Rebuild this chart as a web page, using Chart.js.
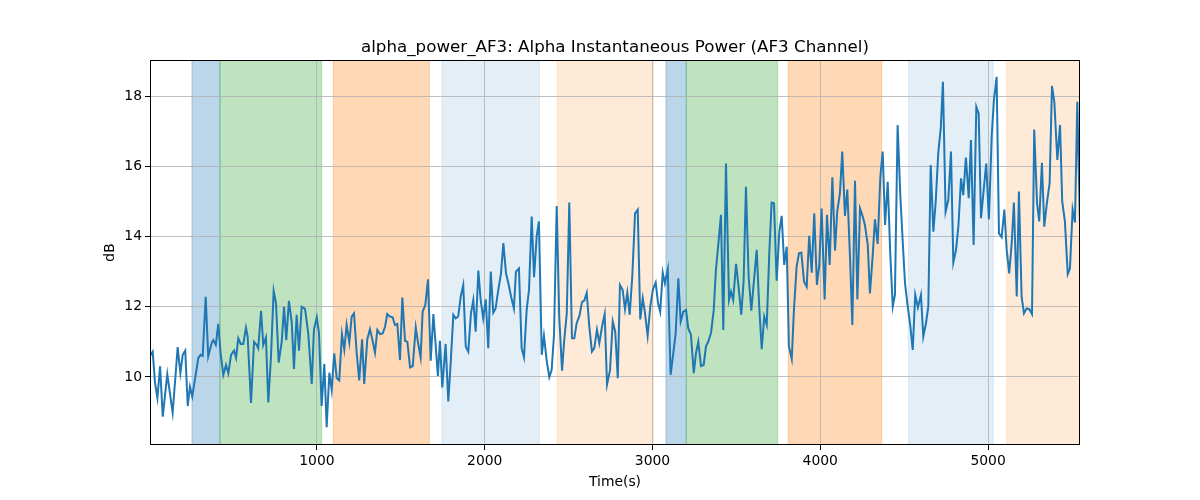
<!DOCTYPE html>
<html>
<head>
<meta charset="utf-8">
<script src="https://cdn.jsdelivr.net/npm/chart.js@4.4.0/dist/chart.umd.min.js"></script>
<style>
  html, body { margin: 0; padding: 0; background: #fff; }
  #wrap { width: 1200px; height: 500px; }
</style>
</head>
<body>
<div id="wrap"><canvas id="chart" width="1200" height="500"></canvas></div>
<script>
// time (s) of each sample
const times = [
  5, 21, 35, 49, 65, 81, 108, 140, 170, 186, 200, 215, 230, 243, 257, 293, 307, 319, 337, 352,
  373, 382, 397, 412, 426, 442, 458, 472, 488, 506, 518, 531, 546, 561, 577,
  587, 607, 625, 641, 650, 667, 680, 696, 710, 726, 742, 756, 772, 790, 804, 817, 833, 850, 863, 879,
  893, 909, 929, 948, 969, 982, 999, 1012, 1028, 1044, 1058, 1074, 1088, 1103, 1118, 1133, 1149, 1163,
  1177, 1193, 1207, 1221, 1237, 1252, 1269, 1282, 1300, 1316, 1330, 1346, 1360, 1376, 1392, 1406, 1419, 1435, 1451, 1465,
  1479, 1495, 1509, 1525, 1539, 1555, 1571, 1589, 1600, 1618, 1630, 1646, 1662, 1678, 1694, 1710, 1721,
  1733, 1747, 1767, 1783, 1797, 1813, 1827, 1842, 1857, 1872, 1887, 1902, 1918, 1932, 1946, 1962, 1976, 1991, 2006, 2021,
  2036, 2051, 2065, 2081, 2097, 2111, 2127, 2141, 2157, 2174, 2186, 2204, 2220, 2234, 2250, 2264, 2280, 2294,
  2310, 2323, 2340, 2353, 2369, 2385, 2399, 2413, 2429, 2444, 2461, 2474, 2489, 2504, 2520, 2534, 2548, 2564, 2580, 2593,
  2608, 2623, 2639, 2653, 2669, 2683, 2699, 2715, 2729, 2747, 2763, 2778, 2793, 2806, 2822, 2836, 2850, 2864,
  2880, 2896, 2912, 2927, 2942, 2955, 2971, 2987, 3003, 3019, 3033, 3046, 3061, 3074, 3091, 3108, 3124, 3138, 3154, 3168,
  3184, 3200, 3213, 3229, 3246, 3259, 3273, 3289, 3305, 3319, 3332, 3349, 3365, 3378, 3392, 3408, 3422, 3438,
  3456, 3468, 3481, 3498, 3515, 3529, 3543, 3557, 3573, 3589, 3605, 3621, 3636, 3651, 3666, 3681, 3696, 3710, 3724, 3740,
  3756, 3770, 3785, 3800, 3813, 3830, 3843, 3859, 3873, 3887, 3903, 3919, 3934, 3949, 3964, 3980,
  3994, 4008, 4026, 4040, 4056, 4072, 4088, 4101, 4117, 4131, 4147, 4161, 4177, 4191, 4207, 4221, 4237, 4253, 4266, 4283,
  4296, 4312, 4326, 4342, 4358, 4372, 4386, 4402, 4417, 4432, 4445, 4461, 4477, 4493, 4505, 4521, 4536, 4551, 4566,
  4582, 4600, 4614, 4630, 4644, 4658, 4674, 4688, 4703, 4718, 4731, 4747, 4763, 4779, 4793, 4809, 4823, 4839, 4852, 4868,
  4885, 4898, 4914, 4930, 4944, 4958, 4974, 4989, 5005, 5022, 5035, 5051, 5065, 5081, 5097, 5111, 5126,
  5141, 5154, 5171, 5184, 5200, 5214, 5230, 5246, 5262, 5275, 5292, 5305, 5321, 5335, 5351, 5367, 5381, 5395, 5413, 5429,
  5442, 5458, 5475, 5488, 5504, 5518, 5532, 5548
]

// alpha power (dB)
const alphaPower = [
  10.6, 10.72, 9.83, 9.4, 10.3, 8.87, 10.08, 8.98, 10.85, 10.11, 10.63, 10.75, 9.17, 9.72, 9.44, 10.54, 10.63, 10.6, 12.28, 10.58,
  10.97, 11.05, 10.91, 11.51, 10.66, 10.06, 10.34, 10.1, 10.63, 10.75, 10.54, 11.1, 10.94, 10.94, 11.4,
  11.15, 9.26, 11.0, 10.91, 10.82, 11.88, 10.91, 11.13, 9.27, 10.58, 12.45, 12.1, 10.41, 11.0, 12.0, 11.05, 12.17, 11.54, 10.23, 11.77,
  10.75, 12.0, 11.94, 11.25, 9.8, 11.34, 11.7, 11.25, 9.17, 10.37, 8.57, 10.12, 9.63, 10.67, 9.96, 9.9, 11.22, 10.78,
  11.48, 10.98, 11.72, 11.81, 10.67, 9.9, 11.07, 9.8, 11.07, 11.36, 11.07, 10.69, 11.34, 11.22, 11.24, 11.43, 11.79, 11.72, 11.7, 11.48,
  11.51, 10.48, 12.26, 11.03, 11.0, 10.27, 10.31, 11.41, 11.05, 10.56, 11.86, 12.05, 12.78, 10.46, 11.79, 10.75, 10.03,
  11.03, 9.7, 10.94, 9.3, 10.39, 11.77, 11.67, 11.72, 12.29, 12.62, 10.87, 10.72, 11.81, 12.19, 11.29, 13.03, 12.19, 11.67, 12.21, 10.82,
  13.0, 11.83, 11.95, 12.48, 12.95, 13.81, 12.95, 12.67, 12.29, 11.95, 13.0, 13.09, 10.82, 10.56, 11.91, 12.48, 14.57, 12.84,
  14.02, 14.43, 10.63, 11.17, 10.48, 9.99, 10.2, 11.2, 14.87, 11.72, 10.18, 11.05, 11.81, 14.97, 11.1, 11.1, 11.53, 11.73, 12.14, 12.17,
  12.4, 11.45, 10.72, 10.82, 11.34, 10.96, 11.43, 11.79, 9.78, 10.2, 11.58, 11.29, 9.96, 12.62, 12.48, 11.93, 12.4, 11.77,
  12.91, 14.66, 14.77, 11.64, 12.24, 11.83, 11.17, 12.01, 12.5, 12.69, 12.1, 11.86, 12.97, 12.67, 13.07, 10.06, 10.67, 11.24, 12.81, 11.58,
  11.86, 11.91, 11.39, 11.2, 10.11, 10.67, 11.0, 10.31, 10.34, 10.88, 11.0, 11.26, 11.91, 13.05, 13.76, 14.62, 11.34, 16.08,
  12.19, 12.43, 12.19, 13.22, 12.48, 11.77, 12.72, 15.42, 12.86, 11.89, 12.76, 13.62, 12.01, 10.79, 11.72, 11.48, 13.52, 14.97, 14.95, 12.74,
  14.14, 14.59, 13.19, 13.71, 10.87, 10.51, 11.91, 13.14, 13.52, 13.54, 12.72, 12.57, 14.02, 12.97, 14.66, 12.62,
  13.2, 14.8, 12.21, 14.62, 13.19, 15.69, 13.6, 14.71, 15.23, 16.42, 14.59, 15.34, 13.43, 11.48, 15.59, 12.21, 14.8, 14.57, 14.33, 13.76,
  12.38, 13.43, 14.49, 13.79, 15.7, 16.42, 14.33, 15.56, 13.52, 12.01, 12.34, 17.18, 15.18, 13.71, 12.67, 12.01, 11.48, 10.77, 12.34,
  11.98, 12.34, 11.15, 11.53, 12.01, 16.04, 14.14, 15.0, 16.37, 17.08, 18.41, 14.71, 15.04, 16.42, 13.26, 13.62, 14.28, 15.66, 15.18, 16.25,
  15.09, 16.75, 13.76, 17.7, 17.51, 14.52, 15.33, 16.08, 14.49, 16.89, 17.89, 18.55, 14.09, 13.98, 14.77, 13.62, 12.95,
  13.81, 14.97, 12.29, 15.28, 12.29, 11.81, 11.95, 11.93, 11.79, 17.05, 14.95, 14.43, 16.1, 14.28, 14.97, 15.52, 18.29, 17.84, 16.18, 17.18,
  15.0, 14.43, 12.93, 13.09, 14.77, 14.4, 17.84, 14.3
]

// shaded phases (start, end in seconds) and their kind
const spanStarts = [255, 422, 1097, 1745, 2432, 3080, 3201, 3809, 4525, 5111]
const spanEnds   = [422, 1028, 1670, 2326, 3005, 3201, 3746, 4366, 5031, 5548]
const spanKinds  = ['blue', 'green', 'orange', 'lightblue', 'lightorange', 'blue', 'green', 'orange', 'lightblue', 'lightorange']

const xTicks = [1000, 2000, 3000, 4000, 5000]
const yTicks = [10, 12, 14, 16, 18]

const chartTitle = 'alpha_power_AF3: Alpha Instantaneous Power (AF3 Channel)'

const spanColors = {
    blue: 'rgba(31, 119, 180, 0.3)',
    green: 'rgba(44, 160, 44, 0.3)',
    orange: 'rgba(255, 127, 14, 0.3)',
    lightblue: 'rgba(31, 119, 180, 0.12)',
    lightorange: 'rgba(255, 127, 14, 0.16)'
}

const data = times.map((t, i) => ({x: t, y: alphaPower[i]}))

// axvspan-like background bands, drawn under the grid
const spansPlugin = {
    id: 'spans',
    beforeDraw(chart) {
        const {ctx, chartArea, scales} = chart
        ctx.save()
        ctx.beginPath()
        ctx.rect(chartArea.left, chartArea.top, chartArea.width, chartArea.height)
        ctx.clip()
        spanStarts.forEach((s, i) => {
            const x0 = scales.x.getPixelForValue(s)
            const x1 = scales.x.getPixelForValue(spanEnds[i])
            ctx.fillStyle = spanColors[spanKinds[i]]
            ctx.fillRect(x0, chartArea.top, x1 - x0, chartArea.height)
            ctx.strokeStyle = spanColors[spanKinds[i]]
            ctx.lineWidth = 1
            ctx.strokeRect(x0, chartArea.top, x1 - x0, chartArea.height)
        })
        ctx.restore()
    }
}

// box around the plot + title centred over the axes (matplotlib style)
const framePlugin = {
    id: 'frame',
    afterDraw(chart) {
        const {ctx, chartArea} = chart
        ctx.save()
        ctx.strokeStyle = '#000'
        ctx.lineWidth = 1
        ctx.strokeRect(chartArea.left + 0.5, chartArea.top + 0.5, chartArea.width - 1, chartArea.height - 1)
        ctx.fillStyle = '#000'
        ctx.font = '16.7px "DejaVu Sans"'
        ctx.textAlign = 'center'
        ctx.textBaseline = 'middle'
        ctx.fillText(chartTitle, (chartArea.left + chartArea.right) / 2, chartArea.top - 12)
        ctx.restore()
    }
}

const font = {family: 'DejaVu Sans', size: 13.9}

new Chart(document.getElementById('chart'), {
    type: 'line',
    data: {
        datasets: [{
            label: 'alpha_power_AF3',
            data,
            borderColor: '#1f77b4',
            borderWidth: 2,
            pointRadius: 0,
            tension: 0,
            fill: false
        }]
    },
    options: {
        responsive: false,
        animation: false,
        layout: {padding: {left: 95, right: 120, top: 60, bottom: 0}},
        scales: {
            x: {
                type: 'linear',
                min: 5,
                max: 5548,
                afterBuildTicks: s => { s.ticks = xTicks.map(v => ({value: v})) },
                afterFit: s => { s.height = 55 },
                ticks: {color: '#000', font, padding: 3, maxRotation: 0, callback: v => String(v)},
                grid: {color: '#b0b0b0', lineWidth: 0.8, tickColor: '#000', tickLength: 5, tickWidth: 1},
                border: {display: false},
                title: {display: true, text: 'Time(s)', color: '#000', font, padding: {top: 0, bottom: 9}}
            },
            y: {
                min: 8.06,
                max: 19.03,
                afterBuildTicks: s => { s.ticks = yTicks.map(v => ({value: v})) },
                afterFit: s => { s.width = 55 },
                ticks: {color: '#000', font, padding: 3, callback: v => String(v)},
                grid: {color: '#b0b0b0', lineWidth: 0.8, tickColor: '#000', tickLength: 5, tickWidth: 1},
                border: {display: false},
                title: {display: true, text: 'dB', color: '#000', font, padding: {top: 7, bottom: 0}}
            }
        },
        plugins: {
            legend: {display: false},
            tooltip: {enabled: false},
            title: {display: false}
        }
    },
    plugins: [spansPlugin, framePlugin]
})
</script>
</body>
</html>
